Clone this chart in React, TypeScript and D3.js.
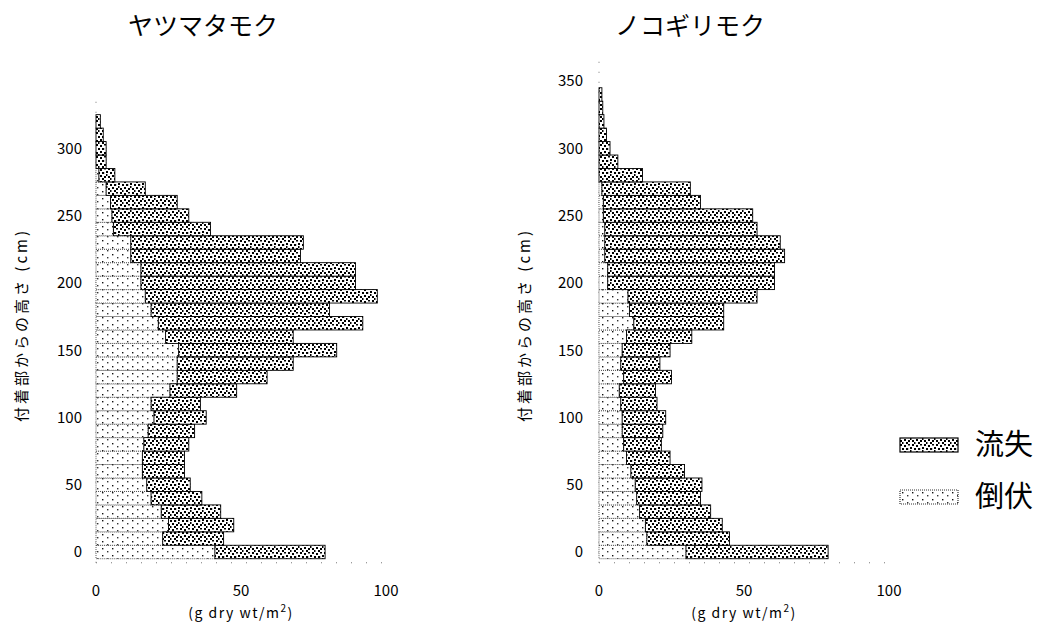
import React, { useEffect, useRef } from "react";
import * as d3 from "d3";

// Heights (cm) – category centres
const heightsA = [0,10,20,30,40,50,60,70,80,90,100,110,120,130,140,150,160,170,180,190,200,210,220,230,240,250,260,270,280,290,300,310,320];
const heightsB = [0,10,20,30,40,50,60,70,80,90,100,110,120,130,140,150,160,170,180,190,200,210,220,230,240,250,260,270,280,290,300,310,320,330,340];

// ヤツマタモク
const toppledA = [41,23,25,22.5,19,17.5,16,16,16.5,18,20,19,25.5,28,28,28.5,24,21.5,19,17,15.5,15.5,12,12,6,5.5,5,3.5,1,0,0,0,0];
const lostA = [38,21,22.5,20.5,17.5,15,14.5,14.5,15.5,16,18,17,23,31,40,54.5,44,70.5,61.5,80,74,74,58.5,59.5,33.5,26.5,23,13.5,5.5,3.5,3.5,2.5,1.5];

// ノコギリモク
const toppledB = [30,16.5,16,14,13,12.5,11,9.5,8.5,8,8,7.5,7,8.5,7.5,8,9.5,12,10.5,10,3,3,2,2,2,1.5,1.5,1,0,0,0,0,0,0,0];
const lostB = [49,28.5,26.5,24.5,22,23,18.5,15,13,14,15,12.5,12.5,16.5,13.5,16.5,22.5,31,32.5,44.5,57.5,57.5,62,60.5,52.5,51.5,33.5,30.5,15,6.5,3.8,2.6,1.7,1.3,1];

const titles = ["ヤツマタモク", "ノコギリモク"];
const yTicksA = [0,50,100,150,200,250,300];
const yTicksB = [0,50,100,150,200,250,300,350];
const xTicks = [0,50,100];
const yTitle = "付着部からの高さ (cm)";
const unitLabel = "(g dry wt/m";
const legendLabels = ["流失", "倒伏"];

const W = 1049, H = 632;
const FONT = "'Noto Sans CJK JP', 'Liberation Sans', sans-serif";

export default function App() {
  const ref = useRef<SVGSVGElement>(null);

  useEffect(() => {
    const svg = d3.select(ref.current);
    svg.selectAll("*").remove();
    svg.append("rect").attr("width", W).attr("height", H).attr("fill", "#fff");

    // patterns
    const defs = svg.append("defs");
    const pd = defs.append("pattern").attr("id", "dense").attr("patternUnits", "userSpaceOnUse")
      .attr("width", 12).attr("height", 12);
    pd.append("rect").attr("width", 12).attr("height", 12).attr("fill", "#fff");
    const dots: [number, number, number, number][] = [
      [0,0,2,2],[4,1,2,2],[8,0,2,1.5],[2,4,2,2],[6,4,2.2,2],[10,3,2,2],
      [0,8,2,2],[4,7,2,2],[8,8,2,2],[2,10,1.5,2],[6,10,2,2],[10,6,1.5,2]
    ];
    dots.forEach(([x, y, w, h]) => pd.append("rect").attr("x", x).attr("y", y).attr("width", w).attr("height", h).attr("fill", "#000"));

    const pl = defs.append("pattern").attr("id", "light").attr("patternUnits", "userSpaceOnUse")
      .attr("width", 10).attr("height", 7);
    pl.append("rect").attr("width", 10).attr("height", 7).attr("fill", "#fff");
    pl.append("rect").attr("x", 2).attr("y", 2).attr("width", 1.4).attr("height", 1.4).attr("fill", "#111");
    pl.append("rect").attr("x", 7).attr("y", 5).attr("width", 1.4).attr("height", 1.4).attr("fill", "#333");

    const y = d3.scaleLinear().domain([0, 350]).range([552, 81]);

    const panels = [
      { x0: 96, heights: heightsA, lost: lostA, topp: toppledA, ticks: yTicksA, title: titles[0], titleX: 203, yTitleX: 22, tickX: 82, axisTop: 337 },
      { x0: 599, heights: heightsB, lost: lostB, topp: toppledB, ticks: yTicksB, title: titles[1], titleX: 690, yTitleX: 525, tickX: 583, axisTop: 365 },
    ];

    panels.forEach((p) => {
      const x = d3.scaleLinear().domain([0, 100]).range([p.x0, p.x0 + 290]);
      const g = svg.append("g");

      // faint dotted axes
      g.append("line").attr("x1", x(0)).attr("x2", x(0)).attr("y1", y(-8)).attr("y2", y(p.axisTop))
        .attr("stroke", "#777").attr("stroke-dasharray", "1 9");
      g.append("line").attr("x1", x(0)).attr("x2", x(100)).attr("y1", y(-8)).attr("y2", y(-8))
        .attr("stroke", "#777").attr("stroke-dasharray", "1 14");

      const rows = p.heights.map((h, i) => ({ h, a: p.topp[i], b: p.lost[i] }));
      // toppled (倒伏)
      g.selectAll("rect.t").data(rows.filter(r => r.a > 0)).join("rect").attr("class", "t")
        .attr("x", x(0)).attr("width", r => x(r.a) - x(0))
        .attr("y", r => y(r.h + 5)).attr("height", r => y(r.h - 5) - y(r.h + 5))
        .attr("fill", "url(#light)").attr("stroke", "#333").attr("stroke-width", 0.8)
        .attr("stroke-dasharray", "1 1");
      // lost (流失)
      g.selectAll("rect.l").data(rows).join("rect").attr("class", "l")
        .attr("x", r => x(r.a)).attr("width", r => x(r.a + r.b) - x(r.a))
        .attr("y", r => y(r.h + 5)).attr("height", r => y(r.h - 5) - y(r.h + 5))
        .attr("fill", "url(#dense)").attr("stroke", "#000").attr("stroke-width", 0.9);

      // y tick labels
      g.selectAll("text.yt").data(p.ticks).join("text").attr("class", "yt")
        .attr("x", p.tickX).attr("y", d => y(d)).attr("dy", "0.36em")
        .attr("text-anchor", "end").attr("font-size", 15).attr("font-family", FONT)
        .text(d => d);
      // x tick labels
      g.selectAll("text.xt").data(xTicks).join("text").attr("class", "xt")
        .attr("x", d => x(d)).attr("y", 596)
        .attr("text-anchor", "middle").attr("font-size", 15).attr("font-family", FONT)
        .text(d => d);
      // unit label
      const u = g.append("text").attr("x", x(50)).attr("y", 618).attr("text-anchor", "middle")
        .attr("font-size", 14).attr("font-family", FONT).attr("letter-spacing", 1.5);
      u.append("tspan").text(unitLabel);
      u.append("tspan").attr("font-size", 10).attr("dy", -6).text("2");
      u.append("tspan").attr("dy", 6).text(")");
      // title
      g.append("text").attr("x", p.titleX).attr("y", 35).attr("text-anchor", "middle")
        .attr("font-size", 25).attr("font-family", FONT).text(p.title);
      // y title
      g.append("text").attr("transform", `translate(${p.yTitleX},325) rotate(-90)`)
        .attr("text-anchor", "middle").attr("dy", "0.35em")
        .attr("font-size", 15).attr("font-family", FONT).attr("letter-spacing", 3)
        .text(yTitle);
    });

    // legend
    const lg = svg.append("g");
    const items = [
      { label: legendLabels[0], fill: "url(#dense)", stroke: "#000", dash: null, y: 445 },
      { label: legendLabels[1], fill: "url(#light)", stroke: "#333", dash: "1 1", y: 497 },
    ];
    items.forEach(it => {
      lg.append("rect").attr("x", 900).attr("y", it.y - 7).attr("width", 58).attr("height", 14)
        .attr("fill", it.fill).attr("stroke", it.stroke).attr("stroke-width", 1.2)
        .attr("stroke-dasharray", it.dash);
      lg.append("text").attr("x", 975).attr("y", it.y).attr("dy", "0.36em")
        .attr("font-size", 29).attr("font-family", FONT).text(it.label);
    });
  }, []);

  return (
    <svg ref={ref} width={W} height={H} style={{ position: "absolute", left: 0, top: 0, display: "block" }} />
  );
}
